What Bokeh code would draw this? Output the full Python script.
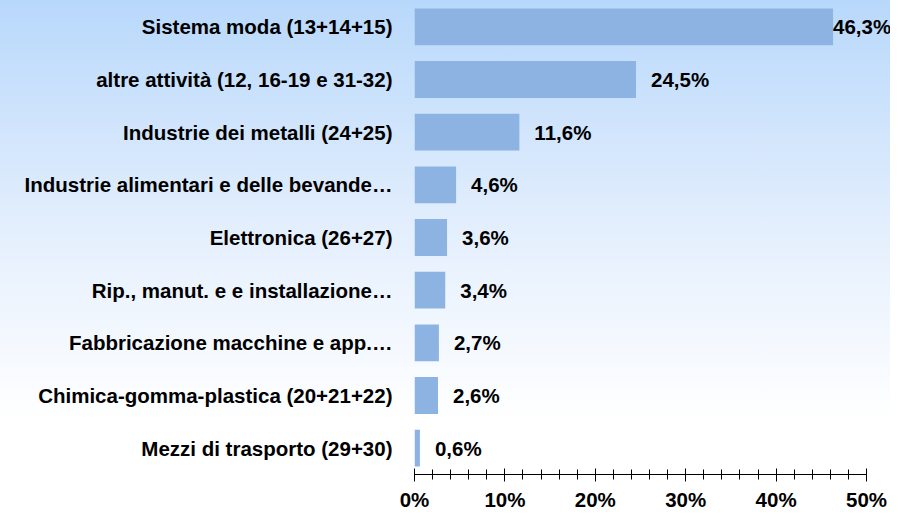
import numpy as np
from bokeh.plotting import figure
from bokeh.models import ColumnDataSource, FactorRange, Range1d, FixedTicker, PrintfTickFormatter
from bokeh.core.properties import value
from bokeh.embed import file_html
from bokeh.resources import INLINE

categories = [
    "Sistema moda (13+14+15)",
    "altre attività (12, 16-19 e 31-32)",
    "Industrie dei metalli (24+25)",
    "Industrie alimentari e delle bevande…",
    "Elettronica (26+27)",
    "Rip., manut. e e installazione…",
    "Fabbricazione macchine e app.…",
    "Chimica-gomma-plastica (20+21+22)",
    "Mezzi di trasporto (29+30)",
]
values = [46.3, 24.5, 11.6, 4.6, 3.6, 3.4, 2.7, 2.6, 0.6]
value_labels = ["46,3%", "24,5%", "11,6%", "4,6%", "3,6%", "3,4%", "2,7%", "2,6%", "0,6%"]
major_ticks = [0, 10, 20, 30, 40, 50]
minor_ticks = list(range(0, 51, 2))

FONT = "Liberation Sans"
FS = "20.5px"

W, H = 890, 513
left_border = 414
bottom_border = 38
frame_w = W - left_border
px_per_unit = 9.04
x_end = frame_w / px_per_unit

# label offsets: put label after the bar, unless it would not fit
label_w = 60
offsets = []
for v in values:
    end_px = v * px_per_unit
    offsets.append(15 if end_px + 15 + label_w < frame_w else 0)

src = ColumnDataSource(dict(cat=categories, val=values, lbl=value_labels, off=offsets))

p = figure(
    width=W, height=H,
    y_range=FactorRange(factors=list(reversed(categories))),
    x_range=Range1d(0, x_end),
    output_backend="svg", toolbar_location=None,
    min_border_left=left_border, min_border_right=0,
    min_border_top=0, min_border_bottom=bottom_border,
)
p.styles = {"background": "linear-gradient(to bottom, #b8d8fb 0%, #e4effd 45%, #ffffff 82%, #ffffff 100%)"}
p.background_fill_alpha = 0
p.border_fill_alpha = 0
p.outline_line_color = None
p.xgrid.visible = False
p.ygrid.visible = False

p.hbar(y="cat", right="val", left=0, height=0.7, source=src,
       fill_color="#8db3e2", line_color=None)

p.text(x="val", y="cat", text="lbl", x_offset="off", source=src,
       text_baseline="middle", text_align="left",
       text_font=value(FONT), text_font_style="bold", text_font_size=FS,
       text_color="#000000")

xa = p.xaxis[0]
xa.ticker = FixedTicker(ticks=major_ticks, minor_ticks=minor_ticks)
xa.formatter = PrintfTickFormatter(format="%d%%")
xa.bounds = (0, 50)
xa.axis_line_color = "#000000"
xa.axis_line_width = 1
xa.major_tick_line_color = "#000000"
xa.minor_tick_line_color = "#000000"
xa.major_tick_in = 6
xa.major_tick_out = 7
xa.minor_tick_in = 5
xa.minor_tick_out = 5
xa.major_label_standoff = 6
xa.major_label_text_font = FONT
xa.major_label_text_font_style = "bold"
xa.major_label_text_font_size = FS
xa.major_label_text_color = "#000000"

ya = p.yaxis[0]
ya.axis_line_color = None
ya.major_tick_line_color = None
ya.minor_tick_line_color = None
ya.major_tick_out = 0
ya.major_tick_in = 0
ya.major_label_standoff = 22
ya.major_label_text_font = FONT
ya.major_label_text_font_style = "bold"
ya.major_label_text_font_size = FS
ya.major_label_text_color = "#000000"

open("out.html", "w").write(file_html(p, INLINE))
